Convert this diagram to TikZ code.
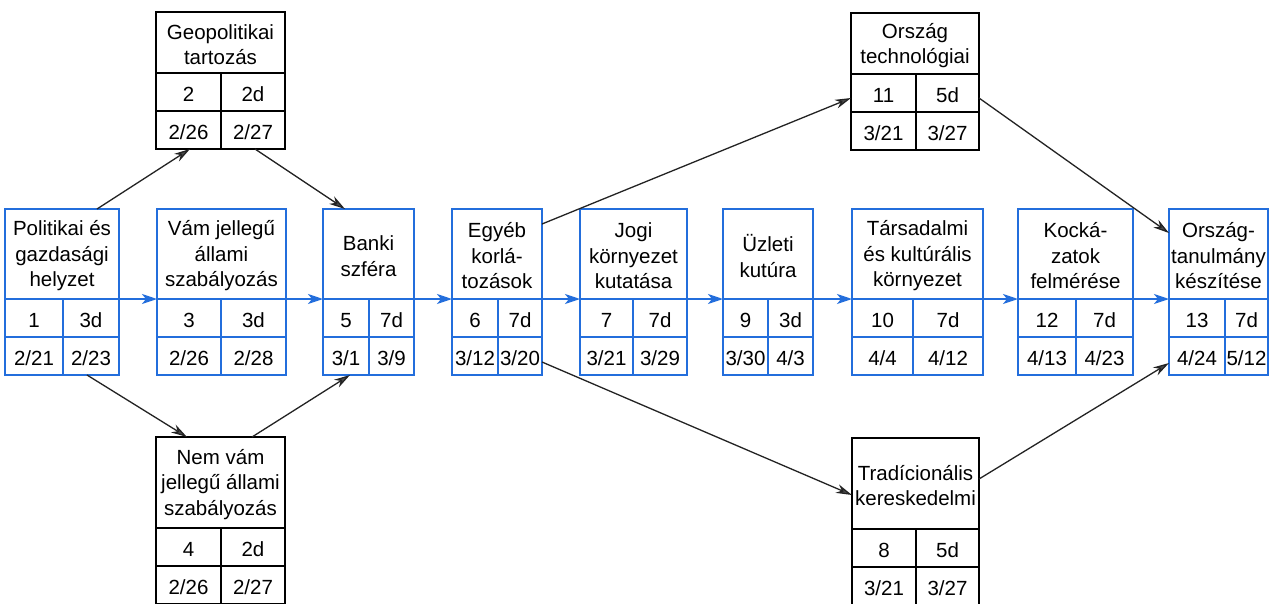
\documentclass[tikz,border=0pt]{standalone}
\usepackage{fontspec}
\setmainfont{Liberation Sans}
\usetikzlibrary{arrows.meta}
\definecolor{boxblue}{RGB}{35,110,220}
\definecolor{arrowgray}{RGB}{35,35,35}
\tikzset{
  bluebox/.style={draw=boxblue, line width=2.5pt},
  blackbox/.style={draw=black, line width=1.8pt},
  titletext/.style={align=center, inner sep=0pt, font=\fontsize{20.5}{25.5}\selectfont},
  celltext/.style={anchor=base, inner sep=0pt, font=\fontsize{20.5}{25}\selectfont},
  bluearrow/.style={draw=boxblue, line width=1.8pt, -{Stealth[length=15pt,width=10pt,inset=4pt]}},
  blackarrow/.style={draw=arrowgray, line width=1.3pt, -{Stealth[length=16pt,width=9pt,inset=5pt,fill=gray!60!black]}}
}
\newcommand\taskbox[8]{%
  \gdef\tbn{#1}\gdef\tbl{#3}\gdef\tbr{#4}\gdef\tbm{#5}\gdef\tbt{#6}\gdef\tbh{#7}%
  \node[#2, rectangle, inner sep=0pt, outer sep=0pt, minimum width={(#4)-(#3)}, minimum height={#7+76}] (#1) at ({(#3+#4)/2},{#6+(#7+76)/2}) {};
  \draw[#2] ({#3},{#6+#7}) -- ({#4},{#6+#7});
  \draw[#2] ({#3},{#6+#7+38}) -- ({#4},{#6+#7+38});
  \draw[#2] ({#5},{#6+#7}) -- ({#5},{#6+#7+76});
  \coordinate (#1-w) at ({#3},{#6+#7});
  \coordinate (#1-e) at ({#4},{#6+#7});
  \node[titletext] (#1-t) at ({(#3+#4)/2},{#6+#7/2+2}) {#8};
}
\newcommand\taskcells[4]{%
  \node[celltext] (\tbn-a) at ({(\tbl+\tbm)/2},{\tbt+\tbh+28.5}) {#1};
  \node[celltext] (\tbn-b) at ({(\tbm+\tbr)/2},{\tbt+\tbh+28.5}) {#2};
  \node[celltext] (\tbn-c) at ({(\tbl+\tbm)/2},{\tbt+\tbh+66.5}) {#3};
  \node[celltext] (\tbn-d) at ({(\tbm+\tbr)/2},{\tbt+\tbh+66.5}) {#4};
}
\begin{document}
\begin{tikzpicture}[x=1pt,y=-1pt]
\useasboundingbox (0,0) rectangle (1271,603);
\fill[white] (0,0) rectangle (1271,603);
% main row
\taskbox{n1}{bluebox}{5}{119}{63}{209}{90}{Politikai és\\gazdasági\\helyzet}
\taskcells{1}{3d}{2/21}{2/23}
\taskbox{n3}{bluebox}{157}{286}{221}{209}{90}{Vám jellegű\\állami\\szabályozás}
\taskcells{3}{3d}{2/26}{2/28}
\taskbox{n5}{bluebox}{323}{414}{369}{209}{90}{Banki\\szféra}
\taskcells{5}{7d}{3/1}{3/9}
\taskbox{n6}{bluebox}{452}{542}{498}{209}{90}{Egyéb\\korlá-\\tozások}
\taskcells{6}{7d}{3/12}{3/20}
\taskbox{n7}{bluebox}{580}{687}{633}{209}{90}{Jogi\\környezet\\kutatása}
\taskcells{7}{7d}{3/21}{3/29}
\taskbox{n9}{bluebox}{723}{813}{768}{209}{90}{Üzleti\\kutúra}
\taskcells{9}{3d}{3/30}{4/3}
\taskbox{n10}{bluebox}{852}{983}{913}{209}{90}{Társadalmi\\és kultúrális\\környezet}
\taskcells{10}{7d}{4/4}{4/12}
\taskbox{n12}{bluebox}{1018}{1133}{1076}{209}{90}{Kocká-\\zatok\\felmérése}
\taskcells{12}{7d}{4/13}{4/23}
\taskbox{n13}{bluebox}{1169}{1268}{1225}{209}{90}{Ország-\\tanulmány\\készítése}
\taskcells{13}{7d}{4/24}{5/12}
% upper and lower boxes
\taskbox{n2}{blackbox}{156}{285}{221}{12}{61}{Geopolitikai\\tartozás}
\taskcells{2}{2d}{2/26}{2/27}
\taskbox{n4}{blackbox}{156}{285}{221}{437}{91}{Nem vám\\jellegű állami\\szabályozás}
\taskcells{4}{2d}{2/26}{2/27}
\taskbox{n11}{blackbox}{851}{979}{916}{13}{61}{Ország\\technológiai}
\taskcells{11}{5d}{3/21}{3/27}
\taskbox{n8}{blackbox}{852}{979}{916}{438}{91}{Tradícionális\\kereskedelmi}
\taskcells{8}{5d}{3/21}{3/27}
% blue arrows
\draw[bluearrow] (n1-e) -- (n3-w);
\draw[bluearrow] (n3-e) -- (n5-w);
\draw[bluearrow] (n5-e) -- (n6-w);
\draw[bluearrow] (n6-e) -- (n7-w);
\draw[bluearrow] (n7-e) -- (n9-w);
\draw[bluearrow] (n9-e) -- (n10-w);
\draw[bluearrow] (n10-e) -- (n12-w);
\draw[bluearrow] (n12-e) -- (n13-w);
% black arrows
\draw[blackarrow] ([xshift=92pt]n1.north west) -- ([xshift=34pt]n2.south west);
\draw[blackarrow] ([xshift=99pt]n2.south west) -- ([xshift=22pt]n5.north west);
\draw[blackarrow] ([xshift=82pt]n1.south west) -- ([xshift=31pt]n4.north west);
\draw[blackarrow] ([xshift=96pt]n4.north west) -- ([xshift=27pt]n5.south west);
\draw[blackarrow] ([yshift=-15pt]n6.north east) -- ([yshift=-85pt]n11.north west);
\draw[blackarrow] ([yshift=-85pt]n11.north east) -- ([yshift=-24pt]n13.north west);
\draw[blackarrow] ([yshift=-153pt]n6.north east) -- ([yshift=-57pt]n8.north west);
\draw[blackarrow] ([yshift=-41pt]n8.north east) -- ([yshift=-154pt]n13.north west);
\end{tikzpicture}
\end{document}
